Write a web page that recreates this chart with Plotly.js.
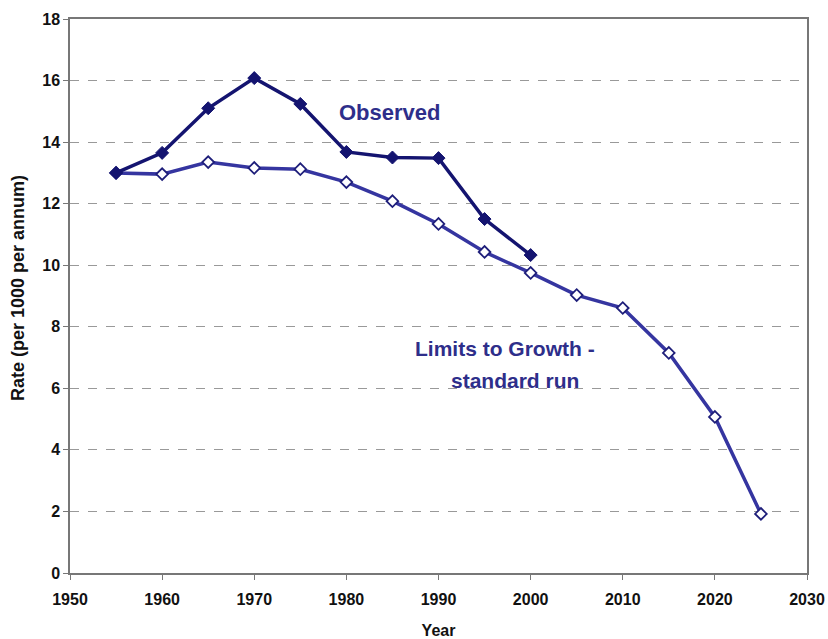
<!DOCTYPE html>
<html><head><meta charset="utf-8">
<script src="https://cdn.plot.ly/plotly-3.0.1.min.js"></script>
<style>html,body{margin:0;padding:0;background:#fff}</style>
</head><body><div id="chart" style="width:828px;height:639px"></div>
<script>
const yearsObserved = [1955,1960,1965,1970,1975,1980,1985,1990,1995,2000];
const observed = [13.0,13.65,15.1,16.08,15.24,13.68,13.5,13.48,11.5,10.33];
const yearsLtG = [1955,1960,1965,1970,1975,1980,1985,1990,1995,2000,2005,2010,2015,2020,2025];
const ltg = [13.0,12.96,13.35,13.16,13.12,12.7,12.08,11.34,10.43,9.75,9.03,8.61,7.15,5.07,1.92];
const xTicks = [1950,1960,1970,1980,1990,2000,2010,2020,2030];
const yTicks = [0,2,4,6,8,10,12,14,16,18];

const fam = '"Liberation Sans", Arial, sans-serif';
const traces = [
  {x:yearsLtG, y:ltg, type:'scatter', mode:'lines+markers', name:'Limits to Growth - standard run',
   line:{color:'#3535a0', width:3.5},
   marker:{symbol:'diamond', size:9, color:'#ffffff', line:{color:'#1e1e7a', width:1.8}}},
  {x:yearsObserved, y:observed, type:'scatter', mode:'lines+markers', name:'Observed',
   line:{color:'#141470', width:3.5},
   marker:{symbol:'diamond', size:10, color:'#141470', line:{color:'#141470', width:1}}}
];
const layout = {
  width:828, height:639,
  margin:{l:70, r:21, t:19, b:66},
  paper_bgcolor:'#fff', plot_bgcolor:'#fff',
  showlegend:false,
  font:{family:fam, color:'#111'},
  xaxis:{range:[1950,2030], tickvals:xTicks, ticktext:xTicks.map(v=>'<b>'+v+'</b>'),
    ticks:'outside', ticklen:5, tickcolor:'#777', showgrid:false, zeroline:false,
    showline:true, linecolor:'#777', linewidth:1.5, mirror:true, ticklabelstandoff:6,
    tickfont:{size:16, family:fam, color:'#111', weight:'bold'},
    title:{text:'<b>Year</b>', font:{size:16, family:fam, color:'#111'}, standoff:19}},
  yaxis:{range:[0,18], tickvals:yTicks, ticktext:yTicks.map(v=>'<b>'+v+'</b>'),
    ticks:'outside', ticklen:5, tickcolor:'#777',
    showgrid:true, gridcolor:'#999', griddash:'dash', gridwidth:1, zeroline:false,
    showline:true, linecolor:'#777', linewidth:1.5, mirror:true,
    tickfont:{size:16, family:fam, color:'#111', weight:'bold'}},
  annotations:[
    {xref:'paper', yref:'paper', x:(18-70)/737, y:(573-288)/554, text:'<b>Rate (per 1000 per annum)</b>',
     textangle:-90, showarrow:false, xanchor:'center', yanchor:'middle',
     font:{size:18, family:fam, color:'#111'}},
    {x:1979.0, y:14.95, xref:'x', yref:'y', text:'<b>Observed</b>', showarrow:false, xanchor:'left',
     font:{size:22, family:fam, color:'#2e2e8a'}},
    {x:1997.2, y:7.28, xref:'x', yref:'y', text:'<b>Limits to Growth -</b>', showarrow:false,
     font:{size:21, family:fam, color:'#2e2e8a'}},
    {x:1998.3, y:6.24, xref:'x', yref:'y', text:'<b>standard run</b>', showarrow:false,
     font:{size:21, family:fam, color:'#2e2e8a'}}
  ]
};
Plotly.newPlot('chart', traces, layout, {displayModeBar:false});
</script></body></html>
